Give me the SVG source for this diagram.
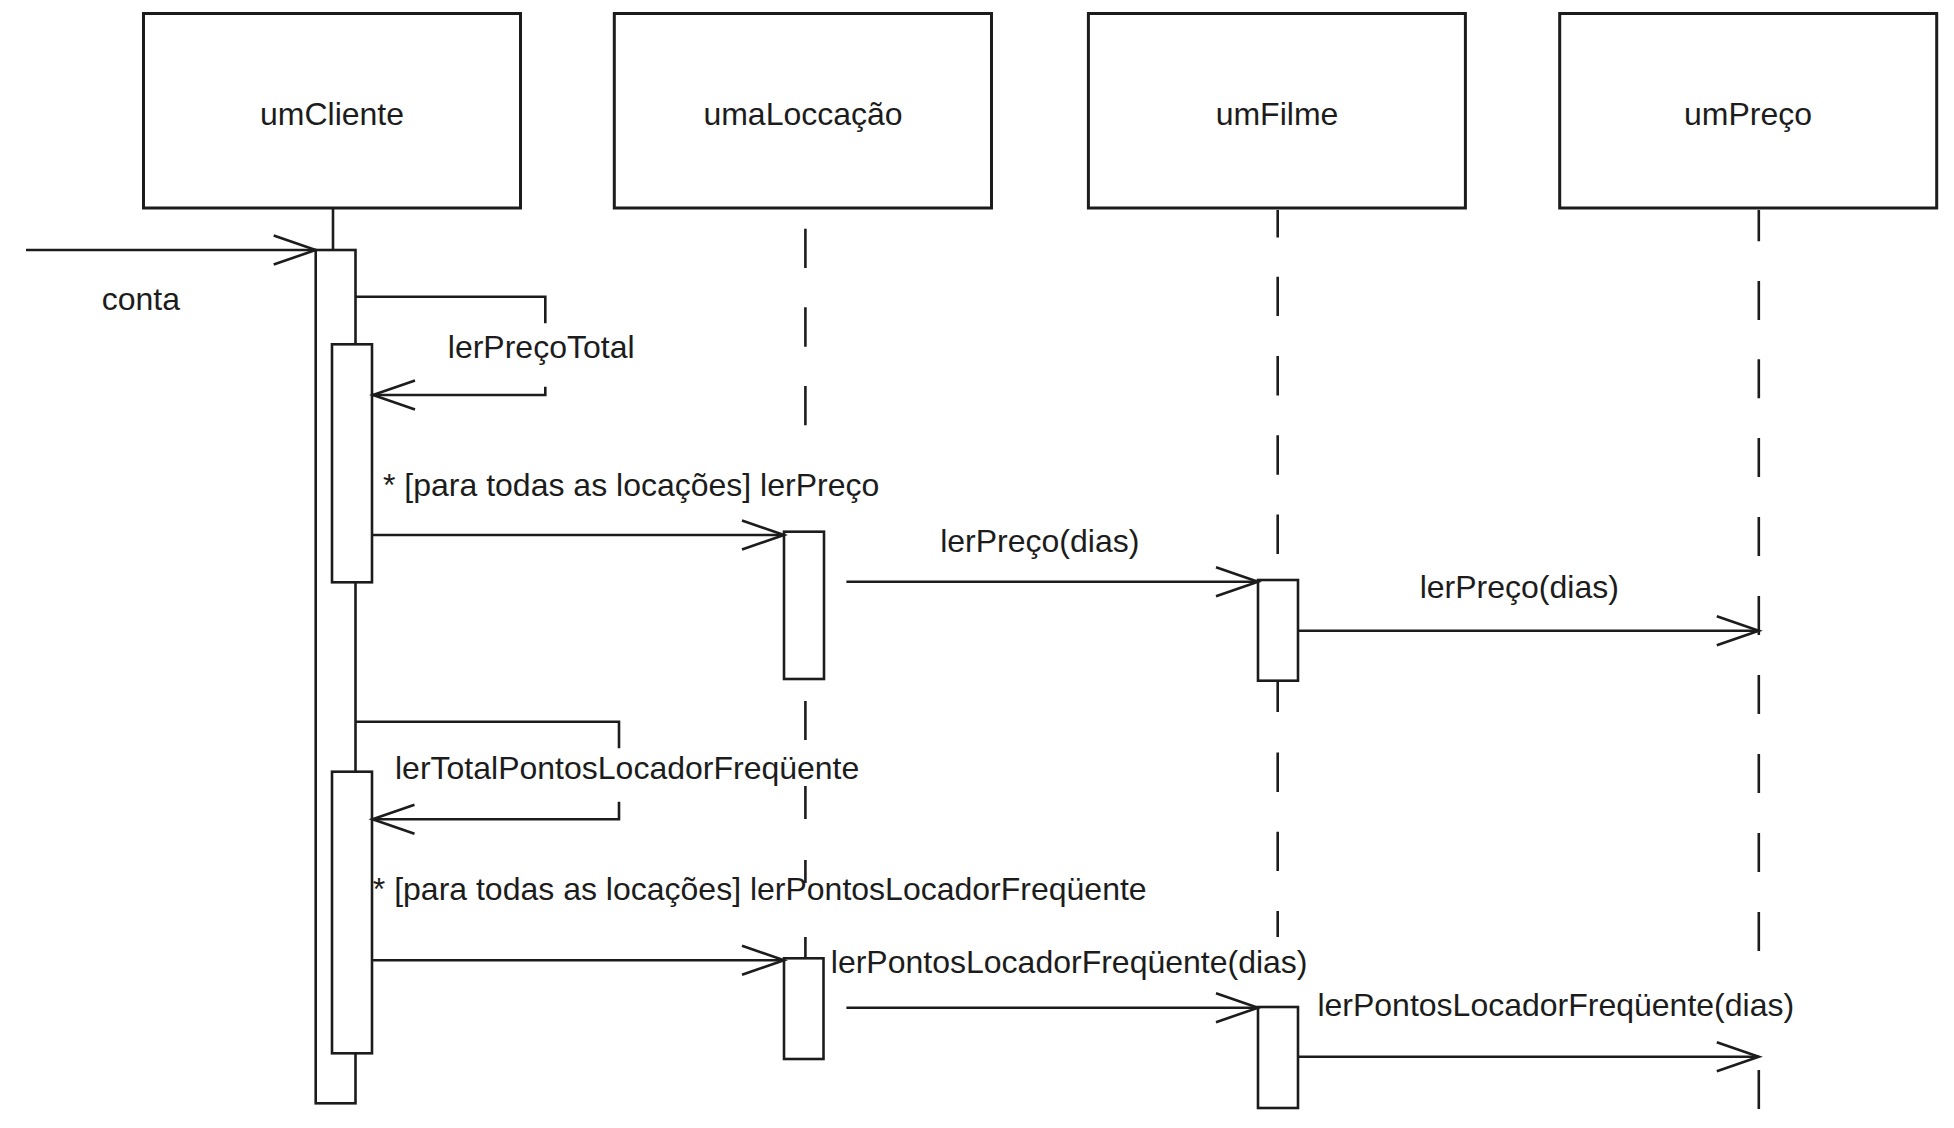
<svg xmlns="http://www.w3.org/2000/svg" width="1954" height="1128" viewBox="0 0 1954 1128">
  <style>
    .box { fill: #ffffff; stroke: #1c1c1c; stroke-width: 3; }
    .bar { fill: #ffffff; stroke: #1c1c1c; stroke-width: 2.6; }
    .life { fill: none; stroke: #1c1c1c; stroke-width: 2.6; }
    .msg { fill: none; stroke: #1c1c1c; stroke-width: 2.6; marker-end: url(#open); }
    .name { font-family: "Liberation Sans", Arial, sans-serif; font-size: 32px; fill: #1c1c1c; text-anchor: middle; }
    .lbl { font-family: "Liberation Sans", Arial, sans-serif; font-size: 32px; fill: #1c1c1c; }
  </style>
  <defs>
    <!-- open V arrowhead for synchronous messages -->
    <marker id="open" markerUnits="userSpaceOnUse" viewBox="-50 -20 54 40" refX="0" refY="0" markerWidth="54" markerHeight="40" orient="auto" overflow="visible">
      <path d="M-42,-14.5 L0,0 L-42,14.5" fill="none" stroke="#1c1c1c" stroke-width="2.6"/>
    </marker>
  </defs>
  <rect width="1954" height="1128" fill="#ffffff"/>

  <!-- umCliente: solid lifeline, outer and two nested activations -->
  <g id="umCliente">
    <rect class="box" x="143.5" y="13.5" width="377" height="194.5"/>
    <text class="name" x="332" y="125">umCliente</text>
    <line class="life" x1="333" y1="208" x2="333" y2="250"/>
    <rect class="bar" x="315.7" y="250" width="39.8" height="853.3"/>
    <rect class="bar" x="332" y="344.3" width="40" height="238"/>
    <rect class="bar" x="332" y="771.7" width="40" height="281.6"/>
  </g>

  <!-- umaLoccação -->
  <g id="umaLoccacao">
    <rect class="box" x="614.3" y="13.5" width="377.2" height="194.5"/>
    <text class="name" x="803" y="125">umaLoccação</text>
    <path class="life" d="M805.4,228.7 V268 M805.4,307.3 V346.7 M805.4,386 V425.3 M805.4,701 V740 M805.4,786 V819 M805.4,860 V883 M805.4,937 V958.3"/>
    <rect class="bar" x="784" y="531.7" width="40" height="147.3"/>
    <rect class="bar" x="784" y="958.3" width="39.5" height="100.7"/>
  </g>

  <!-- umFilme -->
  <g id="umFilme">
    <rect class="box" x="1088.4" y="13.5" width="377" height="194.5"/>
    <text class="name" x="1277" y="125">umFilme</text>
    <path class="life" d="M1277.7,210 V237.5 M1277.7,276.7 V316 M1277.7,356 V395.4 M1277.7,435.3 V474.7 M1277.7,514.6 V554 M1277.7,680.7 V712 M1277.7,752.5 V792 M1277.7,831.8 V871 M1277.7,911 V937"/>
    <rect class="bar" x="1258" y="580" width="40" height="100.7"/>
    <rect class="bar" x="1258" y="1007" width="40" height="101"/>
  </g>

  <!-- umPreço -->
  <g id="umPreco">
    <rect class="box" x="1559.7" y="13.5" width="377" height="194.5"/>
    <text class="name" x="1748" y="125">umPreço</text>
    <path class="life" d="M1758.8,210 V241.3 M1758.8,281 V320 M1758.8,359.3 V398.3 M1758.8,438 V477 M1758.8,517 V556 M1758.8,596 V635 M1758.8,675 V714 M1758.8,754 V793 M1758.8,833 V872 M1758.8,912 V951 M1758.8,1070 V1109"/>
  </g>

  <!-- messages -->
  <g id="connectors">
    <path class="msg" d="M26,250 H315.7"/>
    <path class="msg" d="M355.5,296.7 H545.3 V323.3 M545.3,386.7 V395 H373"/>
    <path class="msg" d="M372,535 H784"/>
    <path class="msg" d="M846.4,581.7 H1258"/>
    <path class="msg" d="M1298,630.7 H1758.8"/>
    <path class="msg" d="M355.8,721.7 H619 V748.3 M619,801.7 V819.3 H372.5"/>
    <path class="msg" d="M372,960.3 H784"/>
    <path class="msg" d="M846.4,1007.7 H1258"/>
    <path class="msg" d="M1298,1056.7 H1758.8"/>
  </g>

  <!-- message labels -->
  <g id="labels">
    <text class="lbl" x="101.7" y="310">conta</text>
    <text class="lbl" x="447.8" y="358">lerPreçoTotal</text>
    <text class="lbl" x="383" y="496">* [para todas as locações] lerPreço</text>
    <text class="lbl" x="940.2" y="551.7">lerPreço(dias)</text>
    <text class="lbl" x="1419.7" y="598">lerPreço(dias)</text>
    <text class="lbl" x="395" y="779">lerTotalPontosLocadorFreqüente</text>
    <text class="lbl" x="372.8" y="900">* [para todas as locações] lerPontosLocadorFreqüente</text>
    <text class="lbl" x="830.8" y="973.3">lerPontosLocadorFreqüente(dias)</text>
    <text class="lbl" x="1317.4" y="1016.4">lerPontosLocadorFreqüente(dias)</text>
  </g>
</svg>
